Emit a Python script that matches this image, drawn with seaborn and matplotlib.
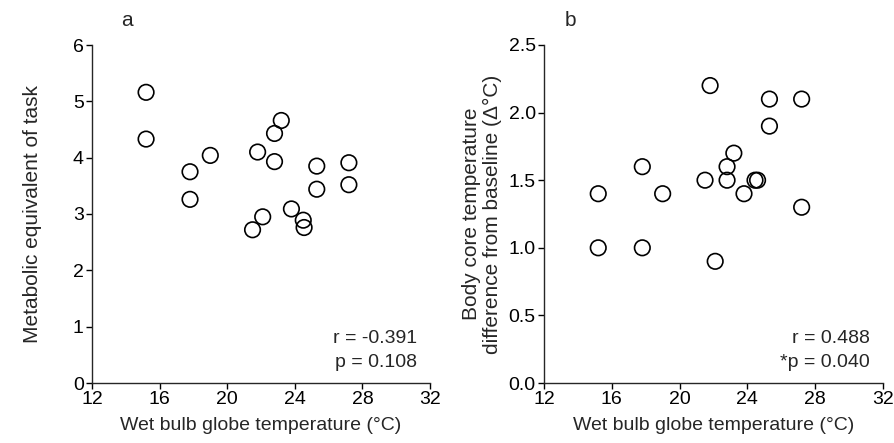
import matplotlib
matplotlib.use("Agg")
import matplotlib.pyplot as plt
import pandas as pd
import seaborn as sns

# Wet bulb globe temperature (°C) for each task session
wbgt = [15.2, 15.2, 17.8, 17.8, 19.0, 21.5, 21.8, 22.1, 22.8, 22.8,
        23.2, 23.8, 24.5, 24.55, 25.3, 25.3, 27.2, 27.2]
# panel a: metabolic equivalent of task
met = [5.16, 4.33, 3.75, 3.26, 4.04, 2.72, 4.10, 2.95, 4.43, 3.93,
       4.66, 3.09, 2.89, 2.76, 3.85, 3.44, 3.91, 3.52]
# panel b: body core temperature change from baseline (Δ°C)
core_wbgt = [15.2, 15.2, 17.8, 17.8, 19.0, 21.5, 21.8, 22.1, 22.8, 22.8,
             23.2, 23.8, 24.45, 24.6, 25.3, 25.3, 27.2, 27.2]
core_delta = [1.40, 1.00, 1.60, 1.00, 1.40, 1.50, 2.20, 0.90, 1.60, 1.50,
              1.70, 1.40, 1.50, 1.50, 2.10, 1.90, 2.10, 1.30]

x_ticks = [12, 16, 20, 24, 28, 32]
met_ticks = [0, 1, 2, 3, 4, 5, 6]
core_ticks = [0.0, 0.5, 1.0, 1.5, 2.0, 2.5]
r_a, p_a = "r = -0.391", "p = 0.108"
r_b, p_b = "r = 0.488", "*p = 0.040"

sns.set_style("ticks")
plt.rcParams["font.family"] = ["Liberation Sans", "DejaVu Sans"]
plt.rcParams["font.size"] = 14
plt.rcParams["axes.linewidth"] = 1.0
plt.rcParams["xtick.major.size"] = 4
plt.rcParams["ytick.major.size"] = 4
plt.rcParams["xtick.major.width"] = 1.0
plt.rcParams["ytick.major.width"] = 1.0
plt.rcParams["xtick.major.pad"] = 2
plt.rcParams["ytick.major.pad"] = 2

df_a = pd.DataFrame({"wbgt": wbgt, "met": met})
df_b = pd.DataFrame({"wbgt": core_wbgt, "delta": core_delta})

fig = plt.figure(figsize=(8.95, 4.43), dpi=100)
ax_a = fig.add_axes([92 / 895, 60 / 443, 338 / 895, 338 / 443])
ax_b = fig.add_axes([544 / 895, 60 / 443, 339 / 895, 338 / 443])

marker_kw = dict(s=125, marker="o", facecolor="none", edgecolor="black",
                 linewidth=1.2, zorder=3, clip_on=False, legend=False)

sns.scatterplot(data=df_a, x="wbgt", y="met", ax=ax_a, **marker_kw)
sns.scatterplot(data=df_b, x="wbgt", y="delta", ax=ax_b, **marker_kw)

for ax in (ax_a, ax_b):
    ax.set_xlim(12, 32)
    ax.set_xticks(x_ticks)
    ax.set_xlabel("Wet bulb globe temperature (\u00b0C)", fontsize=14, labelpad=6)
    sns.despine(ax=ax)
    ax.tick_params(labelsize=14, colors="black")

ax_a.set_ylim(0, 6)
ax_a.set_yticks(met_ticks)
ax_a.set_ylabel("Metabolic equivalent of task", fontsize=15, labelpad=22)

ax_b.set_ylim(0, 2.5)
ax_b.set_yticks(core_ticks)
ax_b.set_yticklabels([f"{t:.1f}" for t in core_ticks])
ax_b.set_ylabel("Body core temperature\ndifference from baseline (\u0394\u00b0C)",
                fontsize=15, labelpad=5, linespacing=1.1)

# correlation stats, right aligned in the lower corner
for ax, r_txt, p_txt, xr in ((ax_a, r_a, p_a, 0.962), (ax_b, r_b, p_b, 0.96)):
    ax.text(xr, 0.133, r_txt, transform=ax.transAxes, ha="right", va="center",
            fontsize=14)
    ax.text(xr, 0.062, p_txt, transform=ax.transAxes, ha="right", va="center",
            fontsize=14)

fig.text(127 / 895, 1 - 20 / 443, "a", fontsize=15, ha="center", va="center")
fig.text(570 / 895, 1 - 20 / 443, "b", fontsize=15, ha="center", va="center")

fig.savefig("out.png", dpi=100)
